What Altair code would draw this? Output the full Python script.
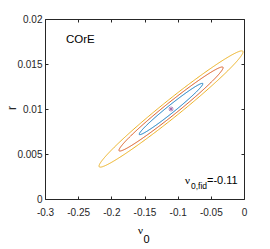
import numpy as np
import pandas as pd
import altair as alt

# ---- values (Fisher forecast, COrE) ----
nu0_fid = -0.11
r_fid = 0.01
sigma_nu0 = 0.0316
sigma_r = 0.00188
rho = 0.982
levels = ["1sigma", "2sigma", "3sigma"]
delta_chi2 = [2.30, 6.17, 11.8]
colors = ["#0072BD", "#D95319", "#EDB120"]

x_ticks = [-0.3, -0.25, -0.2, -0.15, -0.1, -0.05, 0.0]
y_ticks = [0, 0.005, 0.01, 0.015, 0.02]
x_domain = [-0.3, 0.0]
y_domain = [0.0, 0.02]

# contour of each confidence level from the covariance parameters
t = np.linspace(0, 2 * np.pi, 361)
rows = []
for lev, k in zip(levels, delta_chi2):
    s = np.sqrt(k)
    xs_ = nu0_fid + s * sigma_nu0 * np.cos(t)
    ys_ = r_fid + s * sigma_r * (rho * np.cos(t) + np.sqrt(1 - rho ** 2) * np.sin(t))
    for i, (a, b) in enumerate(zip(xs_, ys_)):
        rows.append({"level": lev, "i": i, "nu0": a, "r": b})
df = pd.DataFrame(rows)
fid = pd.DataFrame({"nu0": [nu0_fid], "r": [r_fid]})
one = pd.DataFrame({"k": [0]})

W, H = 199, 180
FONT = "Liberation Sans"
INK = "#262626"

xs = alt.Scale(domain=x_domain, nice=False, zero=False)
ys = alt.Scale(domain=y_domain, nice=False, zero=False)

lab = "'' + datum.value"

ell = alt.Chart(df).mark_line(strokeWidth=1, clip=True).encode(
    x=alt.X("nu0:Q", scale=xs, axis=alt.Axis(
        orient="bottom", values=x_ticks, labelExpr=lab, title=None,
        grid=False, ticks=False, tickSize=0, domain=False,
        labelFont=FONT, labelFontSize=10, labelColor=INK, labelPadding=8,
        labelFlush=False, labelOverlap=False, labelBound=False)),
    y=alt.Y("r:Q", scale=ys, axis=alt.Axis(
        orient="left", values=y_ticks, labelExpr=lab, title="r",
        grid=False, ticks=False, tickSize=0, domain=False,
        labelFont=FONT, labelFontSize=10, labelColor=INK, labelPadding=3,
        labelOverlap=False, labelBound=False,
        titleFont=FONT, titleFontSize=12, titleFontWeight="normal", titleColor=INK,
        titleAngle=270, titleBaseline="alphabetic", titleX=-30, titleY=88.5)),
    color=alt.Color("level:N", scale=alt.Scale(domain=levels, range=colors), legend=None),
    detail="level:N",
    order="i:Q",
)

tick_common = dict(grid=False, labels=False, domain=False, ticks=True, tickSize=3,
                   tickColor=INK, title=None)

marker = alt.Chart(fid).mark_point(
    shape="M-1,0L1,0M0,-1L0,1M-0.7,-0.7L0.7,0.7M-0.7,0.7L0.7,-0.7",
    filled=False, strokeWidth=1, size=25, color="#7E2F8E",
).encode(
    x=alt.X("nu0:Q", scale=xs, axis=alt.Axis(orient="top", offset=-H, values=x_ticks, **tick_common)),
    y=alt.Y("r:Q", scale=ys, axis=alt.Axis(orient="right", offset=-W, values=y_ticks, **tick_common)),
)

core = alt.Chart(one).mark_text(
    text="COrE", font=FONT, fontSize=11.5, color="black", align="left", baseline="alphabetic"
).encode(
    x=alt.XDatum(-0.2683, scale=xs, axis=alt.Axis(orient="bottom", offset=-H, values=x_ticks, **tick_common)),
    y=alt.YDatum(0.01733, scale=ys, axis=alt.Axis(orient="left", offset=-W, values=y_ticks, **tick_common)),
)


def txt(s, x, y, size, font=FONT, align="left"):
    return alt.Chart(one).mark_text(
        text=s, font=font, fontSize=size, color="black", align=align, baseline="alphabetic"
    ).encode(x=alt.XDatum(x, scale=xs, axis=None), y=alt.YDatum(y, scale=ys, axis=None))


ann_nu = txt("ν", -0.0889, 0.00167, 11, font="Liberation Serif")
ann_sub = txt("0,fid", -0.0799, 0.00106, 8.5)
ann_val = txt("=-0.11", -0.0558, 0.00167, 11)
xt_nu = txt("ν", -0.1560, -0.00389, 11, font="Liberation Serif", align="center")
xt_sub = txt("0", -0.1470, -0.00489, 11, align="center")

chart = alt.layer(ell, marker, core, ann_nu, ann_sub, ann_val, xt_nu, xt_sub).resolve_axis(
    x="independent", y="independent"
).properties(
    width=W, height=H,
    padding={"left": 37, "top": 11, "right": 18, "bottom": 46},
    autosize=alt.AutoSizeParams(type="none"),
    background="white",
).configure_view(stroke=INK, strokeWidth=1)

chart.save("out.html", embed_options={"renderer": "svg", "actions": False})
